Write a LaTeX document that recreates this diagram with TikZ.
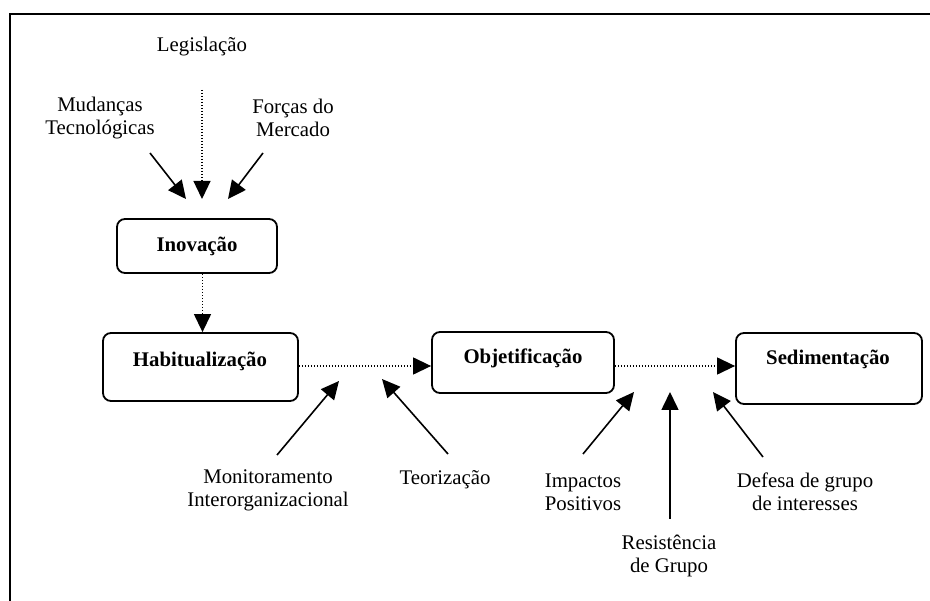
\documentclass[tikz,border=0pt]{standalone}
\usepackage{fontspec}
\setmainfont{Liberation Serif}
\usetikzlibrary{arrows.meta}
\begin{document}
\begin{tikzpicture}[x=1pt,y=-1pt,
  txt/.style={font=\fontsize{20.8}{23}\selectfont, align=center, inner sep=0pt},
  btxt/.style={font=\fontsize{20.8}{23}\selectfont\bfseries, inner sep=0pt},
  stagebox/.style={draw, line width=1.8pt, rounded corners=8pt, inner sep=0pt},
  headtip/.tip={Triangle[length=18pt,width=17pt]},
  solidarrow/.style={line width=1.6pt, -headtip},
  dotarrow/.style={line width=1.3pt, dash pattern=on 1.2pt off 1.8pt, -headtip}
]
\useasboundingbox (0,0) rectangle (930,601);
% frame
\draw[line width=2pt] (10,601) -- (10,14) -- (931,14);

% boxes
\node[stagebox, minimum width=160pt, minimum height=54pt] (inov) at (197,246) {};
\node[btxt] at (197,246) {Inovação};
\node[stagebox, minimum width=195pt, minimum height=68pt] (hab) at (200.5,367) {};
\node[btxt] at (200,361) {Habitualização};
\node[stagebox, minimum width=182pt, minimum height=61pt] (obj) at (523,362.5) {};
\node[btxt] at (523,358) {Objetificação};
\node[stagebox, minimum width=186pt, minimum height=71pt] (sed) at (829,368.5) {};
\node[btxt] at (828,359) {Sedimentação};

% labels
\node[txt] (leg) at (202,47) {Legislação};
\node[txt] (mud) at (100,118) {Mudanças\\Tecnológicas};
\node[txt] (for) at (293,118) {Forças do\\Mercado};
\node[txt] (mon) at (268,490) {Monitoramento\\Interorganizacional};
\node[txt] (teo) at (445,480) {Teorização};
\node[txt] (imp) at (583,492) {Impactos\\Positivos};
\node[txt] (res) at (669,556) {Resistência\\de Grupo};
\node[txt] (def) at (805,492) {Defesa de grupo\\de interesses};

% arrow end points
\coordinate (legS) at (202,90);   \coordinate (legT) at (202,199);
\coordinate (mudS) at (150,153);  \coordinate (mudT) at (186,199);
\coordinate (forS) at (263,153);  \coordinate (forT) at (228,199);
\coordinate (monS) at (277,455);  \coordinate (monT) at (339,381);
\coordinate (teoS) at (448,454);  \coordinate (teoT) at (382,379);
\coordinate (impS) at (583,454);  \coordinate (impT) at (634,392);
\coordinate (resS) at (670,519);  \coordinate (resT) at (670,392);
\coordinate (defS) at (763,457);  \coordinate (defT) at (713,392);

\draw[dotarrow] (legS) -- (legT);
\draw[solidarrow] (mudS) -- (mudT);
\draw[solidarrow] (forS) -- (forT);

\draw[dotarrow] (inov.south -| 202.5,0) -- (hab.north -| 202.5,0);
\draw[dotarrow] (hab.east |- 0,366) -- (obj.west |- 0,366);
\draw[dotarrow] (obj.east |- 0,366) -- (sed.west |- 0,366);

\draw[solidarrow] (monS) -- (monT);
\draw[solidarrow] (teoS) -- (teoT);
\draw[solidarrow] (impS) -- (impT);
\draw[solidarrow] (resS) -- (resT);
\draw[solidarrow] (defS) -- (defT);
\end{tikzpicture}
\end{document}
